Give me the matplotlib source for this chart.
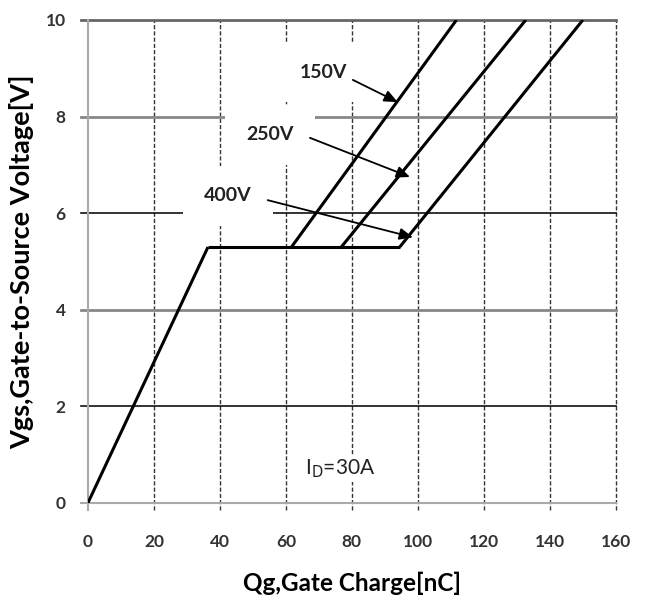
import numpy as np
import matplotlib
matplotlib.use("Agg")
import matplotlib.pyplot as plt

plt.rcParams['font.family'] = ['Lato', 'DejaVu Sans']

# gate charge curves (Qg [nC], Vgs [V])
rise_q = [0, 36.4]
rise_v = [0, 5.3]
plateau_q = [36.4, 94.5]
plateau_v = [5.3, 5.3]
q_150 = [61.7, 111.7]
q_250 = [76.8, 132.7]
q_400 = [94.5, 150.0]
slope_v = [5.3, 10.0]

xticks = [0, 20, 40, 60, 80, 100, 120, 140, 160]
yticks = [0, 2, 4, 6, 8, 10]

fig = plt.figure(figsize=(6.51, 6.06), dpi=100)
ax = fig.add_axes([0.135, 0.170, 0.811, 0.797])
ax.set_xlim(0, 160)
ax.set_ylim(0, 10)

# grid
for x in xticks[1:]:
    ax.plot([x, x], [-0.15, 10], color='#333333', lw=1.0, ls=(0, (3, 1.5)),
            clip_on=False, zorder=1)
for y, c, w in [(2, '#111111', 1.2), (4, '#888888', 2.0), (6, '#111111', 1.2),
                (8, '#888888', 2.0), (10, '#666666', 2.0)]:
    ax.plot([-2, 160], [y, y], color=c, lw=w, clip_on=False, zorder=1)
ax.plot([0, 0], [-0.15, 10], color='#aaaaaa', lw=1.5, clip_on=False, zorder=1)
ax.plot([-2, 160], [0, 0], color='#aaaaaa', lw=1.5, clip_on=False, zorder=1)
for s in ax.spines.values():
    s.set_visible(False)

lk = dict(color='black', lw=2.2, solid_capstyle='butt', zorder=3)
ax.plot(rise_q, rise_v, **lk)
ax.plot(plateau_q, plateau_v, **lk)
ax.plot(q_150, slope_v, **lk)
ax.plot(q_250, slope_v, **lk)
ax.plot(q_400, slope_v, **lk)

bb = dict(boxstyle='square,pad=1.1', fc='white', ec='none')
ak = dict(arrowstyle='-|>,head_length=0.8,head_width=0.35', color='black',
          lw=1.3, shrinkA=0, shrinkB=0)
ax.annotate('150V', xy=(93.9, 8.3), xytext=(71.5, 8.92), ha='center', va='center',
            fontsize=14, fontweight='bold', color='#222222', bbox=bb, zorder=4)
ax.annotate('', xy=(93.9, 8.3), xytext=(80.3, 8.76), arrowprops=ak, zorder=4)
ax.annotate('250V', xy=(97.6, 6.75), xytext=(55.2, 7.62), ha='center', va='center',
            fontsize=14, fontweight='bold', color='#222222', bbox=bb, zorder=4)
ax.annotate('', xy=(97.6, 6.75), xytext=(67.3, 7.56), arrowprops=ak, zorder=4)
ax.annotate('400V', xy=(98.5, 5.5), xytext=(42.4, 6.36), ha='center', va='center',
            fontsize=14, fontweight='bold', color='#222222', bbox=bb, zorder=4)
ax.annotate('', xy=(98.5, 5.5), xytext=(54.5, 6.27), arrowprops=ak, zorder=4)
ax.text(76.4, 0.72, r'I$_\mathrm{D}$=30A', ha='center', va='center', fontsize=15,
        color='#222222', bbox=dict(boxstyle='square,pad=0.1', fc='white', ec='none'), zorder=4)

ax.set_xticks(xticks)
ax.set_yticks(yticks)
ax.tick_params(axis='x', length=0, pad=22, labelsize=12.5, labelcolor='#333333')
ax.tick_params(axis='y', length=0, pad=16, labelsize=12.5, labelcolor='#333333')
for lab in ax.get_xticklabels() + ax.get_yticklabels():
    lab.set_fontweight('bold')
ax.set_xlabel('Qg,Gate Charge[nC]', fontsize=17.5, fontweight='bold', labelpad=16)
ax.set_ylabel('Vgs,Gate-to-Source Voltage[V]', fontsize=19.5, fontweight='bold', labelpad=8)

fig.savefig('out.png', dpi=100)
